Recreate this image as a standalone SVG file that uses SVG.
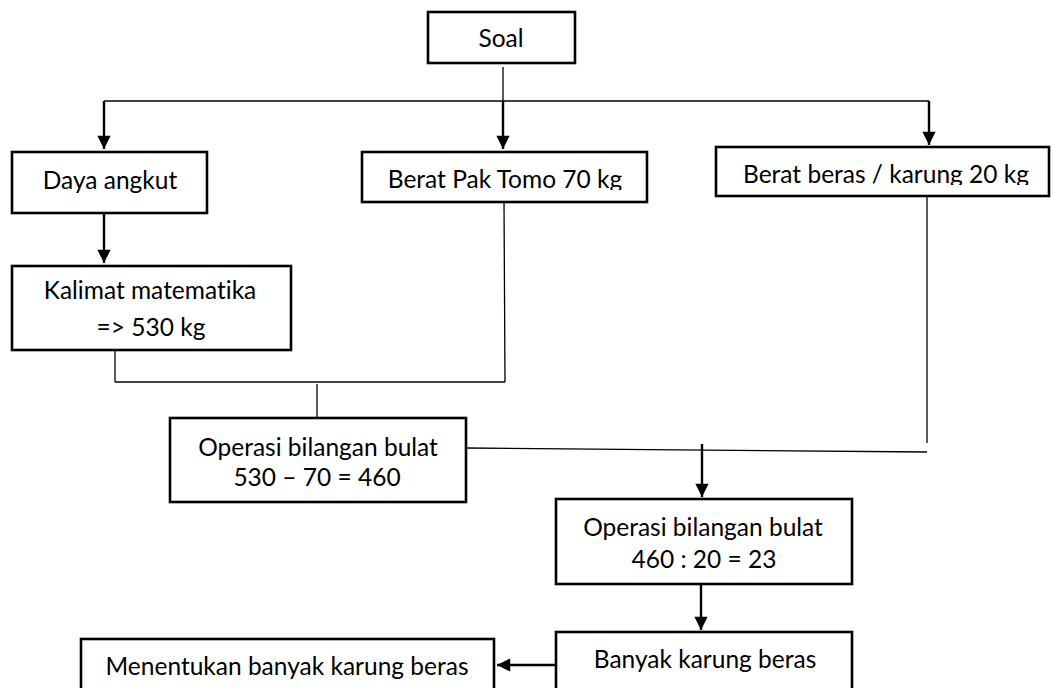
<svg xmlns="http://www.w3.org/2000/svg" width="1054" height="688" viewBox="0 0 1054 688">
  <style>
    .box { fill: #fff; stroke: #000; stroke-width: 2.6; }
    .lbl { font-family: Lato, "Open Sans", sans-serif; font-size: 24.5px; fill: #000; text-anchor: middle; font-variant-ligatures: none; }
    .wire { fill: none; stroke: #000; stroke-width: 1.3; }
    .arr { fill: none; stroke: #000; stroke-width: 2.4; marker-end: url(#head); }
  </style>
  <defs>
    <marker id="head" viewBox="0 0 10 10" refX="10" refY="5" markerWidth="6.5" markerHeight="5.5" markerUnits="strokeWidth" orient="auto">
      <path d="M0,0 L10,5 L0,10 Z" fill="#000"/>
    </marker>
    <!-- the two upper fact boxes cut their labels just under the baseline -->
    <clipPath id="clipTomo"><rect x="362" y="152" width="285" height="38"/></clipPath>
    <clipPath id="clipBeras"><rect x="716" y="147" width="333" height="38"/></clipPath>
  </defs>

  <rect width="1054" height="688" fill="#fff"/>

  <g id="connectors">
    <!-- split from Soal to the three facts -->
    <line class="wire" x1="503" y1="67" x2="503" y2="101"/>
    <line class="wire" x1="104" y1="101" x2="929" y2="101"/>
    <line class="arr" x1="104" y1="101" x2="104" y2="149"/>
    <line class="arr" x1="503" y1="101" x2="503" y2="149"/>
    <line class="arr" x1="929" y1="101" x2="929" y2="145"/>
    <!-- Daya angkut to Kalimat matematika -->
    <line class="arr" x1="104" y1="213" x2="104" y2="263"/>
    <!-- join of Kalimat matematika and Berat Pak Tomo -->
    <line class="wire" x1="115" y1="351" x2="115" y2="382"/>
    <line class="wire" x1="504" y1="202" x2="505" y2="382"/>
    <line class="wire" x1="115" y1="382" x2="505" y2="382"/>
    <line class="wire" x1="317" y1="384" x2="317" y2="417"/>
    <!-- join of subtraction result and Berat beras -->
    <line class="wire" x1="927" y1="196" x2="927" y2="443"/>
    <line class="wire" x1="466" y1="448" x2="927" y2="452"/>
    <line class="arr" x1="702" y1="444" x2="702" y2="497"/>
    <!-- division to result -->
    <line class="arr" x1="701" y1="585" x2="701" y2="630"/>
    <!-- result to conclusion -->
    <line class="arr" x1="555" y1="665" x2="497" y2="665"/>
  </g>

  <g id="soal">
    <rect class="box" x="428" y="12" width="147" height="51"/>
    <text class="lbl" x="501" y="47">Soal</text>
  </g>

  <g id="daya-angkut">
    <rect class="box" x="12" y="152" width="195" height="61"/>
    <text class="lbl" x="110" y="189">Daya angkut</text>
  </g>

  <g id="berat-pak-tomo">
    <rect class="box" x="362" y="152" width="285" height="50"/>
    <text class="lbl" x="505" y="188" clip-path="url(#clipTomo)">Berat Pak Tomo 70 kg</text>
  </g>

  <g id="berat-beras">
    <rect class="box" x="716" y="147" width="333" height="49"/>
    <text class="lbl" x="886" y="183" clip-path="url(#clipBeras)">Berat beras / karung 20 kg</text>
  </g>

  <g id="kalimat-matematika">
    <rect class="box" x="12" y="266" width="279" height="84"/>
    <text class="lbl" x="150" y="299">Kalimat matematika</text>
    <text class="lbl" x="151" y="336">=&gt; 530 kg</text>
  </g>

  <g id="operasi-kurang">
    <rect class="box" x="170" y="418" width="296" height="84"/>
    <text class="lbl" x="318" y="456">Operasi bilangan bulat</text>
    <text class="lbl" x="317" y="486">530 – 70 = 460</text>
  </g>

  <g id="operasi-bagi">
    <rect class="box" x="556" y="499" width="296" height="85"/>
    <text class="lbl" x="703" y="536">Operasi bilangan bulat</text>
    <text class="lbl" x="704" y="568">460 : 20 = 23</text>
  </g>

  <g id="banyak-karung">
    <rect class="box" x="556" y="632" width="296" height="70"/>
    <text class="lbl" x="705" y="668">Banyak karung beras</text>
  </g>

  <g id="menentukan">
    <rect class="box" x="81" y="639" width="413" height="60"/>
    <text class="lbl" x="287" y="675">Menentukan banyak karung beras</text>
  </g>
</svg>
